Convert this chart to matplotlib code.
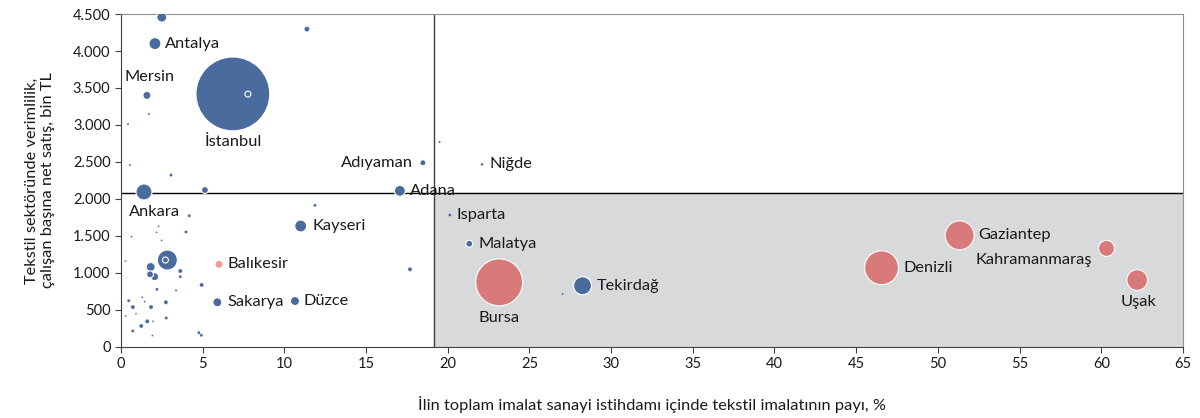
import numpy as np
import matplotlib.pyplot as plt
from matplotlib.ticker import FuncFormatter

# iller: x = tekstilin imalat istihdamındaki payı (%), y = çalışan başına net satış (bin TL),
# e = tekstil istihdamı (bin kişi, balon alanı), g = grup
names = ["İstanbul", "", "", "", "Antalya", "Mersin", "", "", "", "",
         "Adıyaman", "", "Niğde", "Ankara", "", "Adana", "", "", "Kayseri", "",
         "", "", "", "", "", "", "", "Balıkesir", "", "",
         "", "", "", "", "", "", "", "Sakarya", "Düzce", "",
         "", "", "", "", "", "", "", "", "", "",
         "", "", "", "", "", "Isparta", "Malatya", "Bursa", "", "Tekirdağ",
         "Denizli", "Gaziantep", "Kahramanmaraş", "Uşak"]
x = [6.85, 7.77, 2.5, 11.38, 2.08, 1.59, 1.71, 0.43, 0.55, 3.06,
     18.48, 19.5, 22.1, 1.41, 5.14, 17.07, 11.87, 4.18, 11.0, 3.98,
     2.3, 2.18, 2.49, 0.65, 0.27, 2.84, 2.72, 6.0, 1.82, 1.78,
     2.06, 3.63, 3.63, 17.69, 4.94, 2.2, 3.37, 5.9, 10.65, 0.47,
     0.73, 1.31, 1.45, 1.84, 2.75, 0.92, 0.29, 2.77, 1.96, 1.61,
     1.24, 0.72, 1.92, 4.77, 4.92, 20.13, 21.32, 23.15, 27.03, 28.25,
     46.55, 51.33, 60.32, 62.2]
y = [3420, 3418, 4458, 4296, 4100, 3400, 3148, 3013, 2459, 2324,
     2490, 2770, 2468, 2095, 2121, 2110, 1914, 1774, 1635, 1554,
     1630, 1550, 1441, 1490, 1162, 1175, 1175, 1117, 1081, 982,
     950, 1027, 950, 1050, 838, 779, 766, 604, 621, 626,
     540, 671, 612, 540, 604, 450, 419, 392, 347, 347,
     284, 216, 153, 193, 158, 1783, 1396, 874, 716, 828,
     1071, 1509, 1333, 905]
e = [228, 1.5, 4.2, 1.5, 6, 2.7, 0.2, 0.2, 0.2, 0.4,
     1.5, 0.2, 0.3, 10.7, 2, 5, 0.4, 0.4, 6, 0.4,
     0.15, 0.15, 0.15, 0.15, 0.15, 16.7, 1.5, 2.7, 3.4, 2,
     2.7, 0.7, 0.4, 0.7, 0.7, 0.4, 0.2, 3.4, 3.4, 0.4,
     0.7, 0.15, 0.15, 0.7, 0.7, 0.15, 0.15, 0.4, 0.15, 0.7,
     1, 0.4, 0.15, 0.4, 0.4, 0.4, 2, 92, 0.2, 13.5,
     48, 35, 10.7, 18]
g = ["b"] * len(x)
for k, n in enumerate(names):
    if n in ("Bursa", "Denizli", "Gaziantep", "Kahramanmaraş", "Uşak"):
        g[k] = "r"
    if n == "Balıkesir":
        g[k] = "p"

x_esik = 19.15
y_esik = 2080

colors = {"b": "#4a6b9d", "r": "#d97a7a", "p": "#f59a9a"}

# etiket yerleşimi: (dx px, dy px, ha)
lab = {
    "Antalya": (10, 0, "left"), "Mersin": (3, 18, "center"),
    "İstanbul": (0, -48, "center"), "Adıyaman": (-10, 0, "right"),
    "Niğde": (7, 0, "left"), "Adana": (10, 0, "left"),
    "Ankara": (11, -20, "center"), "Kayseri": (12, 0, "left"),
    "Balıkesir": (9, 0, "left"), "Sakarya": (10, 0, "left"),
    "Düzce": (9, 0, "left"), "Isparta": (7, 0, "left"),
    "Malatya": (9, 0, "left"), "Bursa": (0, -36, "center"),
    "Tekirdağ": (14, 0, "left"), "Denizli": (22, 0, "left"),
    "Gaziantep": (19, 0, "left"), "Kahramanmaraş": (-14, -12, "right"),
    "Uşak": (1, -22, "center"),
}

plt.rcParams['font.family'] = ['Lato', 'DejaVu Sans']

fig = plt.figure(figsize=(12, 4.18), dpi=100)
ax = fig.add_axes([0.1008, 0.1699, 0.885, 0.7966])

ax.set_xlim(0, 65)
ax.set_ylim(0, 4500)

ax.fill_between([x_esik, 65], 0, y_esik, color="#d8d9db", zorder=0)
ax.axvline(x_esik, color="#404040", lw=1, zorder=1)
ax.axhline(y_esik, color="black", lw=1, zorder=1)

order = np.argsort(e)[::-1]
xs = np.array(x)[order]
ys = np.array(y)[order]
es = np.array(e)[order]
ss = es * 12.4
cs = [colors[g[k]] for k in order]
lws = np.where(es >= 1, 0.8, 0.15)
ax.scatter(xs, ys, s=ss, c=cs, edgecolors="white", linewidths=lws, zorder=3)

for k, n in enumerate(names):
    if n in lab:
        dx, dy, ha = lab[n]
        ax.annotate(n, (x[k], y[k]), xytext=(dx * 0.72, dy * 0.72),
                    textcoords="offset points", ha=ha, va="center",
                    fontsize=11.8, color="#1a1a1a", zorder=4)

ax.set_xticks(np.arange(0, 66, 5))
ax.set_yticks(np.arange(0, 4501, 500))
ax.yaxis.set_major_formatter(FuncFormatter(lambda v, p: f"{int(v):,}".replace(",", ".")))
ax.tick_params(direction="out", length=4, labelsize=10.5, color="#404040", labelcolor="#1a1a1a")
for sp in ("left", "bottom"):
    ax.spines[sp].set_color("#404040")
for sp in ("top", "right"):
    ax.spines[sp].set_color("#909090")

ax.set_xlabel("İlin toplam imalat sanayi istihdamı içinde tekstil imalatının payı, %",
              fontsize=11.8, color="#1a1a1a", labelpad=18)
ax.set_ylabel("Tekstil sektöründe verimlilik,\nçalışan başına net satış, bin TL",
              fontsize=11.8, color="#1a1a1a", labelpad=13)

fig.savefig("out.png", dpi=100)
